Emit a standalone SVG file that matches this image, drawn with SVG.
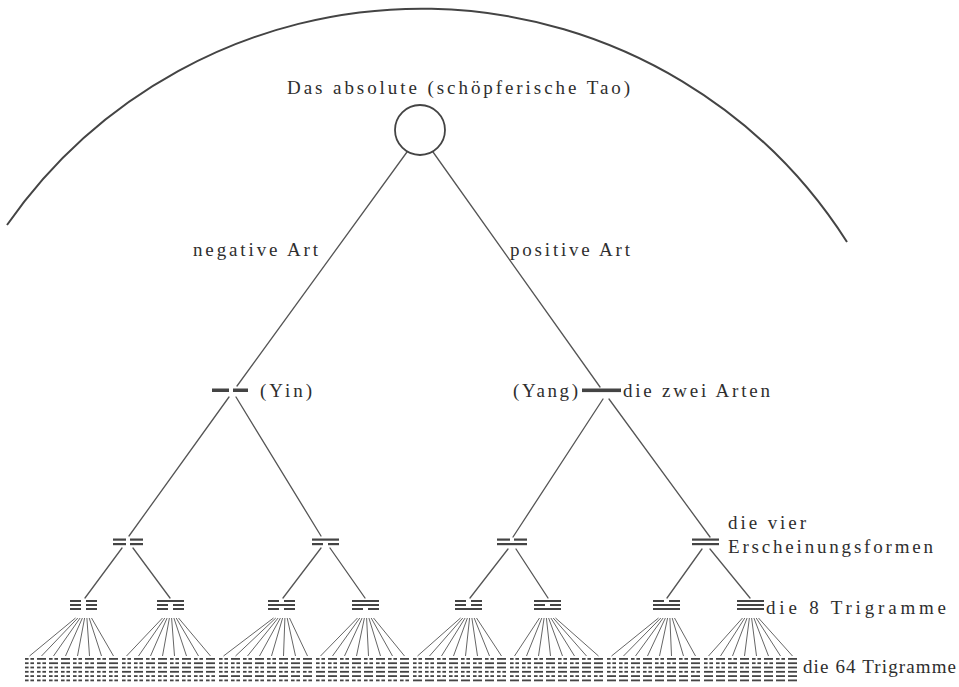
<svg xmlns="http://www.w3.org/2000/svg" width="959" height="687" viewBox="0 0 959 687">
<style>
.ln{stroke:#555;stroke-width:1.3;fill:none;stroke-linecap:round}
.fan{stroke:#666;stroke-width:1}
.sym{fill:#444}
.t{font-family:"Liberation Serif","DejaVu Serif",serif;fill:#2e2e2e;font-size:19px}
</style>
<defs>
<rect id="s" width="9" height="1.8"/>
<g id="b"><rect width="3.6" height="1.8"/><rect x="5.4" width="3.6" height="1.8"/></g>
<g id="h0"><use href="#b"/><use href="#b" y="4.3"/><use href="#b" y="8.6"/></g>
<g id="h1"><use href="#s"/><use href="#b" y="4.3"/><use href="#b" y="8.6"/></g>
<g id="h2"><use href="#b"/><use href="#s" y="4.3"/><use href="#b" y="8.6"/></g>
<g id="h3"><use href="#s"/><use href="#s" y="4.3"/><use href="#b" y="8.6"/></g>
<g id="h4"><use href="#b"/><use href="#b" y="4.3"/><use href="#s" y="8.6"/></g>
<g id="h5"><use href="#s"/><use href="#b" y="4.3"/><use href="#s" y="8.6"/></g>
<g id="h6"><use href="#b"/><use href="#s" y="4.3"/><use href="#s" y="8.6"/></g>
<g id="h7"><use href="#s"/><use href="#s" y="4.3"/><use href="#s" y="8.6"/></g>
<g id="U"><use href="#h0" x="0"/><use href="#h1" x="12"/><use href="#h2" x="24"/><use href="#h3" x="36"/><use href="#h4" x="48"/><use href="#h5" x="60"/><use href="#h6" x="72"/><use href="#h7" x="84"/></g>
<rect id="S" width="27" height="2"/>
<g id="B"><rect width="11" height="2"/><rect x="16" width="11" height="2"/></g>
<g id="T0"><use href="#B"/><use href="#B" y="4"/><use href="#B" y="8"/></g>
<g id="T1"><use href="#S"/><use href="#B" y="4"/><use href="#B" y="8"/></g>
<g id="T2"><use href="#B"/><use href="#S" y="4"/><use href="#B" y="8"/></g>
<g id="T3"><use href="#S"/><use href="#S" y="4"/><use href="#B" y="8"/></g>
<g id="T4"><use href="#B"/><use href="#B" y="4"/><use href="#S" y="8"/></g>
<g id="T5"><use href="#S"/><use href="#B" y="4"/><use href="#S" y="8"/></g>
<g id="T6"><use href="#B"/><use href="#S" y="4"/><use href="#S" y="8"/></g>
<g id="T7"><use href="#S"/><use href="#S" y="4"/><use href="#S" y="8"/></g>
</defs>
<rect width="959" height="687" fill="#fff"/>

<path id="arc" d="M7,225 A505,505 0 0 1 847,242" fill="none" stroke="#444" stroke-width="2"/>

<g id="connectors">
<path class="ln" d="M407,152 L237,386 M433,152 L600,387"/>
<path class="ln" d="M229,397 L129,536 M236,397 L321,536 M603,399 L513,537 M609,399 L710,537"/>
<path class="ln" d="M122,548 L85,598 M133,548 L170,598 M321,548 L283,598 M330,548 L365,598 M508,549 L470,598 M516,549 L548,598 M702,549 L667,598 M710,549 L750,598"/>
<path class="fan" d="M75.5,618 L29.5,656 M77.8,618 L41.5,656 M80.1,618 L53.5,656 M82.4,618 L65.5,656 M84.6,618 L77.5,656 M86.9,618 L89.5,656 M89.2,618 L101.5,656 M91.5,618 L113.5,656"/>
<path class="fan" d="M162.5,618 L126.5,656 M164.8,618 L138.5,656 M167.1,618 L150.5,656 M169.4,618 L162.5,656 M171.6,618 L174.5,656 M173.9,618 L186.5,656 M176.2,618 L198.5,656 M178.5,618 L210.5,656"/>
<path class="fan" d="M273.5,618 L223.5,656 M275.8,618 L235.5,656 M278.1,618 L247.5,656 M280.4,618 L259.5,656 M282.6,618 L271.5,656 M284.9,618 L283.5,656 M287.2,618 L295.5,656 M289.5,618 L307.5,656"/>
<path class="fan" d="M357.5,618 L320.5,656 M359.8,618 L332.5,656 M362.1,618 L344.5,656 M364.4,618 L356.5,656 M366.6,618 L368.5,656 M368.9,618 L380.5,656 M371.2,618 L392.5,656 M373.5,618 L404.5,656"/>
<path class="fan" d="M460.5,618 L417.5,656 M462.8,618 L429.5,656 M465.1,618 L441.5,656 M467.4,618 L453.5,656 M469.6,618 L465.5,656 M471.9,618 L477.5,656 M474.2,618 L489.5,656 M476.5,618 L501.5,656"/>
<path class="fan" d="M539.5,618 L514.5,656 M541.8,618 L526.5,656 M544.1,618 L538.5,656 M546.4,618 L550.5,656 M548.6,618 L562.5,656 M550.9,618 L574.5,656 M553.2,618 L586.5,656 M555.5,618 L598.5,656"/>
<path class="fan" d="M658.5,618 L611.5,656 M660.8,618 L623.5,656 M663.1,618 L635.5,656 M665.4,618 L647.5,656 M667.6,618 L659.5,656 M669.9,618 L671.5,656 M672.2,618 L683.5,656 M674.5,618 L695.5,656"/>
<path class="fan" d="M742.5,618 L708.5,656 M744.8,618 L720.5,656 M747.1,618 L732.5,656 M749.4,618 L744.5,656 M751.6,618 L756.5,656 M753.9,618 L768.5,656 M756.2,618 L780.5,656 M758.5,618 L792.5,656"/>
</g>

<g id="tao">
<text class="t" x="287" y="94" textLength="343" lengthAdjust="spacing">Das absolute (schöpferische Tao)</text>
<circle cx="420" cy="130" r="25" fill="none" stroke="#444" stroke-width="1.8"/>
</g>
<g id="label-negative"><text class="t" x="193" y="256" textLength="125" lengthAdjust="spacing">negative Art</text></g>
<g id="label-positive"><text class="t" x="510" y="256" textLength="120" lengthAdjust="spacing">positive Art</text></g>

<g id="yin">
<rect class="sym" x="212" y="388.5" width="17" height="3.5"/><rect class="sym" x="233" y="388.5" width="15" height="3.5"/>
<text class="t" x="260" y="397" textLength="52" lengthAdjust="spacing">(Yin)</text>
</g>
<g id="yang">
<rect class="sym" x="582" y="388.5" width="39" height="3.6"/>
<text class="t" x="513" y="397" textLength="65" lengthAdjust="spacing">(Yang)</text>
<text class="t" x="623" y="397" textLength="147" lengthAdjust="spacing">die zwei Arten</text>
</g>

<g id="form1" class="sym"><rect x="113" y="538.5" width="13" height="2.2"/><rect x="130" y="538.5" width="13" height="2.2"/><rect x="113" y="543" width="13" height="2.2"/><rect x="130" y="543" width="13" height="2.2"/></g>
<g id="form2" class="sym"><rect x="312" y="538.5" width="27" height="2.2"/><rect x="312" y="543" width="11" height="2.2"/><rect x="328" y="543" width="11" height="2.2"/></g>
<g id="form3" class="sym"><rect x="497" y="538.5" width="13" height="2.2"/><rect x="514" y="538.5" width="13" height="2.2"/><rect x="497" y="543" width="30" height="2.2"/></g>
<g id="form4" class="sym"><rect x="692" y="538.5" width="27" height="2.2"/><rect x="692" y="543" width="27" height="2.2"/></g>
<g id="label-forms">
<text class="t" x="728" y="529" textLength="78" lengthAdjust="spacing">die vier</text>
<text class="t" x="728" y="553" textLength="205" lengthAdjust="spacing">Erscheinungsformen</text>
</g>

<g id="trigrams" class="sym">
<use href="#T0" x="70" y="600"/>
<use href="#T1" x="157" y="600"/>
<use href="#T2" x="268" y="600"/>
<use href="#T3" x="352" y="600"/>
<use href="#T4" x="455" y="600"/>
<use href="#T5" x="534" y="600"/>
<use href="#T6" x="653" y="600"/>
<use href="#T7" x="737" y="600"/>
</g>
<g id="label-8"><text class="t" x="766" y="614" textLength="180" lengthAdjust="spacing">die 8 Trigramme</text></g>

<g id="hexagrams" class="sym">
<g id="hx1"><use href="#U" x="25" y="658"/><use href="#h0" x="25" y="670.9"/><use href="#h0" x="37" y="670.9"/><use href="#h0" x="49" y="670.9"/><use href="#h0" x="61" y="670.9"/><use href="#h0" x="73" y="670.9"/><use href="#h0" x="85" y="670.9"/><use href="#h0" x="97" y="670.9"/><use href="#h0" x="109" y="670.9"/></g>
<g id="hx2"><use href="#U" x="122" y="658"/><use href="#h1" x="122" y="670.9"/><use href="#h1" x="134" y="670.9"/><use href="#h1" x="146" y="670.9"/><use href="#h1" x="158" y="670.9"/><use href="#h1" x="170" y="670.9"/><use href="#h1" x="182" y="670.9"/><use href="#h1" x="194" y="670.9"/><use href="#h1" x="206" y="670.9"/></g>
<g id="hx3"><use href="#U" x="219" y="658"/><use href="#h2" x="219" y="670.9"/><use href="#h2" x="231" y="670.9"/><use href="#h2" x="243" y="670.9"/><use href="#h2" x="255" y="670.9"/><use href="#h2" x="267" y="670.9"/><use href="#h2" x="279" y="670.9"/><use href="#h2" x="291" y="670.9"/><use href="#h2" x="303" y="670.9"/></g>
<g id="hx4"><use href="#U" x="316" y="658"/><use href="#h3" x="316" y="670.9"/><use href="#h3" x="328" y="670.9"/><use href="#h3" x="340" y="670.9"/><use href="#h3" x="352" y="670.9"/><use href="#h3" x="364" y="670.9"/><use href="#h3" x="376" y="670.9"/><use href="#h3" x="388" y="670.9"/><use href="#h3" x="400" y="670.9"/></g>
<g id="hx5"><use href="#U" x="413" y="658"/><use href="#h4" x="413" y="670.9"/><use href="#h4" x="425" y="670.9"/><use href="#h4" x="437" y="670.9"/><use href="#h4" x="449" y="670.9"/><use href="#h4" x="461" y="670.9"/><use href="#h4" x="473" y="670.9"/><use href="#h4" x="485" y="670.9"/><use href="#h4" x="497" y="670.9"/></g>
<g id="hx6"><use href="#U" x="510" y="658"/><use href="#h5" x="510" y="670.9"/><use href="#h5" x="522" y="670.9"/><use href="#h5" x="534" y="670.9"/><use href="#h5" x="546" y="670.9"/><use href="#h5" x="558" y="670.9"/><use href="#h5" x="570" y="670.9"/><use href="#h5" x="582" y="670.9"/><use href="#h5" x="594" y="670.9"/></g>
<g id="hx7"><use href="#U" x="607" y="658"/><use href="#h6" x="607" y="670.9"/><use href="#h6" x="619" y="670.9"/><use href="#h6" x="631" y="670.9"/><use href="#h6" x="643" y="670.9"/><use href="#h6" x="655" y="670.9"/><use href="#h6" x="667" y="670.9"/><use href="#h6" x="679" y="670.9"/><use href="#h6" x="691" y="670.9"/></g>
<g id="hx8"><use href="#U" x="704" y="658"/><use href="#h7" x="704" y="670.9"/><use href="#h7" x="716" y="670.9"/><use href="#h7" x="728" y="670.9"/><use href="#h7" x="740" y="670.9"/><use href="#h7" x="752" y="670.9"/><use href="#h7" x="764" y="670.9"/><use href="#h7" x="776" y="670.9"/><use href="#h7" x="788" y="670.9"/></g>
</g>
<g id="label-64"><text class="t" x="803" y="673" font-size="17" textLength="153" lengthAdjust="spacing">die 64 Trigramme</text></g>
</svg>
